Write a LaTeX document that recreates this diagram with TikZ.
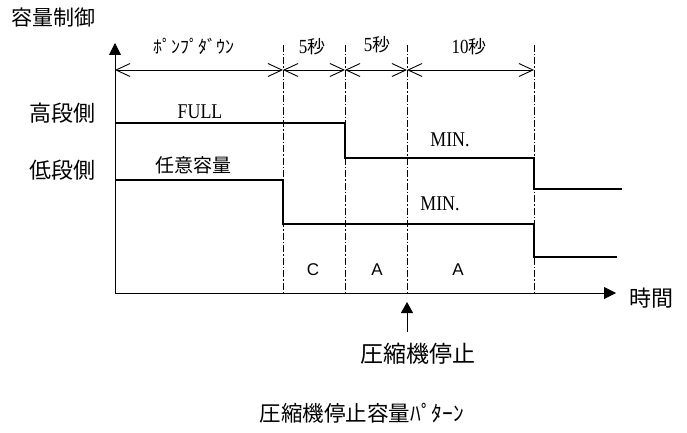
\documentclass[tikz,border=0pt]{standalone}
\usepackage{fontspec}
\usetikzlibrary{arrows.meta}
\newfontfamily\jp{Noto Sans CJK JP}
\newfontfamily\nserif[FakeStretch=0.85]{Liberation Serif}
\newfontfamily\lsans{Liberation Sans}
\begin{document}
\begin{tikzpicture}[x=1pt,y=-1pt,
  axis/.style={line width=1pt,-{Triangle[length=12pt,width=12pt]}},
  sig/.style={line width=1.8pt},
  guide/.style={line width=0.8pt,dash pattern=on 7pt off 2pt on 1.5pt off 2pt},
  dim/.style={line width=0.9pt,{Straight Barb[length=14pt,width=13pt]}-{Straight Barb[length=14pt,width=13pt]}},
  jlab/.style={font=\jp\fontsize{20}{20}\selectfont, inner sep=0pt},
  slab/.style={font=\nserif\fontsize{21}{21}\selectfont, inner sep=0pt},
  alab/.style={font=\lsans\fontsize{17}{17}\selectfont, inner sep=0pt}]
\useasboundingbox (0,0) rectangle (687,433);
% axes
\coordinate (O) at (115,293);
\coordinate (Ytop) at (115,43);
\coordinate (Xend) at (616,293);
\draw[axis] (O) -- (Ytop);
\draw[axis] (O) -- (Xend);
% guides
\foreach \n/\x in {1/283,2/345,3/407,4/534}{
  \coordinate (g\n t) at (\x,45);
  \coordinate (g\n b) at (\x,293);
  \coordinate (d\n) at (\x,70);
  \draw[guide] (g\n t) -- (g\n b);
}
\coordinate (d0) at (115,70);
\draw[dim] (d0) -- (d1);
\draw[dim] (d1) -- (d2);
\draw[dim] (d2) -- (d3);
\draw[dim] (d3) -- (d4);
% signals
\draw[sig] (115,123) -- (345,123) -- (345,158) -- (534,158) -- (534,189) -- (622,189);
\draw[sig] (115,180) -- (283,180) -- (283,224) -- (534,224) -- (534,257) -- (617,257);
% compressor stop arrow
\coordinate (s0) at (407,332);
\coordinate (s1) at (407,302);
\draw[line width=1pt,-{Triangle[length=11pt,width=12pt]}] (s0) -- (s1);
% labels
\node[jlab,font=\jp\fontsize{21}{21}\selectfont] (ylab) at (53,18) {容量制御};
\node[jlab,font=\jp\fontsize{22}{22}\selectfont] (hi) at (62,113) {高段側};
\node[jlab,font=\jp\fontsize{22}{22}\selectfont] (lo) at (62,170) {低段側};
\node[jlab,font=\jp\fontsize{22}{22}\selectfont] (t) at (651,298) {時間};
\node[jlab,font=\jp\fontsize{18}{18}\selectfont] (pd) at (194,46) {ﾎﾟﾝﾌﾟﾀﾞｳﾝ};
\node[slab,font=\nserif\fontsize{20}{20}\selectfont] (s5a) at (312,47) {5{\jp\fontsize{18}{18}\selectfont 秒}};
\node[slab,font=\nserif\fontsize{20}{20}\selectfont] (s5b) at (377,45) {5{\jp\fontsize{18}{18}\selectfont 秒}};
\node[slab,font=\nserif\fontsize{20}{20}\selectfont] (s10) at (469,47) {10{\jp\fontsize{18}{18}\selectfont 秒}};
\node[slab] (full) at (200,112) {FULL};
\node[jlab,font=\jp\fontsize{19}{19}\selectfont] (any) at (193,165) {任意容量};
\node[slab] (min1) at (450,140) {MIN.};
\node[slab] (min2) at (440,204) {MIN.};
\node[alab] (c) at (313,270) {C};
\node[alab] (a1) at (377,270) {A};
\node[alab] (a2) at (458,270) {A};
\node[jlab,font=\jp\fontsize{23}{23}\selectfont] (stop) at (418,354) {圧縮機停止};
\node[jlab,font=\jp\fontsize{21.5}{21.5}\selectfont] (cap) at (362,413) {圧縮機停止容量ﾊﾟﾀｰﾝ};
\end{tikzpicture}
\end{document}
